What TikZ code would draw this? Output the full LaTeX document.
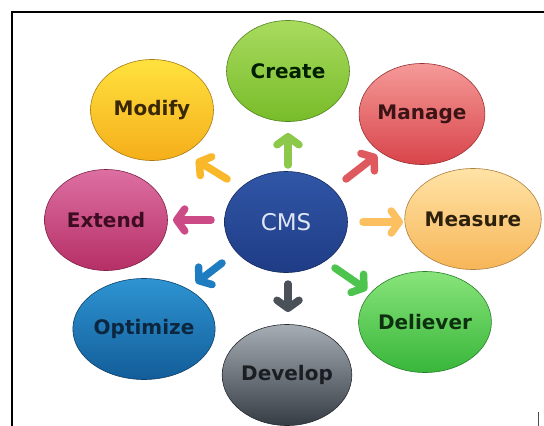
\documentclass[tikz,border=0pt]{standalone}
\usepackage{fontspec}
\setmainfont{DejaVu Sans}
\usetikzlibrary{arrows.meta,shapes.geometric}
\definecolor{createT}{HTML}{A8DB5E}\definecolor{createB}{HTML}{78BC2A}
\definecolor{modifyT}{HTML}{FFE23E}\definecolor{modifyB}{HTML}{F5AE1A}
\definecolor{manageT}{HTML}{F59A98}\definecolor{manageB}{HTML}{D8444A}
\definecolor{extendT}{HTML}{DD6FA2}\definecolor{extendB}{HTML}{B52F66}
\definecolor{cmsT}{HTML}{3056A6}\definecolor{cmsB}{HTML}{1F3C86}
\definecolor{measureT}{HTML}{FFE3A6}\definecolor{measureB}{HTML}{F7B658}
\definecolor{optT}{HTML}{2E94D2}\definecolor{optB}{HTML}{125D99}
\definecolor{devT}{HTML}{A7ADB4}\definecolor{devB}{HTML}{363C44}
\definecolor{delT}{HTML}{88E47A}\definecolor{delB}{HTML}{38B63A}
\definecolor{aCreate}{HTML}{8CC84A}
\definecolor{aModify}{HTML}{F8B82A}
\definecolor{aManage}{HTML}{DE5A5E}
\definecolor{aExtend}{HTML}{CC4A86}
\definecolor{aMeasure}{HTML}{FDC060}
\definecolor{aOpt}{HTML}{1E7DC0}
\definecolor{aDev}{HTML}{4A5159}
\definecolor{aDel}{HTML}{4CC44E}
\tikzset{
  bubble/.style={ellipse, inner sep=0pt, minimum width=123pt, minimum height=101pt,
    font=\fontsize{20}{24}\selectfont\bfseries, draw=#1!70!black, line width=0.6pt},
  spoke/.style={line width=7.5pt, draw=#1, line cap=round,
    -{Straight Barb[round,length=8pt,width=22pt]}},
}
\begin{document}
\begin{tikzpicture}[x=1pt,y=-1pt]
\useasboundingbox (0,0) rectangle (544,426);
\fill[white] (0,0) rectangle (544,426);
\begin{scope}
\clip (0,0) rectangle (544,426);
\node[bubble=createB, top color=createT, bottom color=createB, text=black!70!green!40!black] (create) at (288,71) {Create};
\node[bubble=modifyB, top color=modifyT, bottom color=modifyB, text={rgb,255:red,58;green,40;blue,5}] (modify) at (152,110) {Modify};
\node[bubble=manageB, top color=manageT, bottom color=manageB, text={rgb,255:red,60;green,20;blue,22}] (manage) at (422,114) {Manage};
\node[bubble=extendB, top color=extendT, bottom color=extendB, text={rgb,255:red,60;green,12;blue,32}] (extend) at (106,220) {Extend};
\node[bubble=cmsB, top color=cmsT, bottom color=cmsB, font=\fontsize{23}{27}\selectfont, text={rgb,255:red,222;green,230;blue,245}] (cms) at (286,222) {CMS};
\node[bubble=measureB, top color=measureT, bottom color=measureB, minimum width=125pt, text={rgb,255:red,45;green,32;blue,12}] (measure) at (473,219) {Measure};
\node[bubble=optB, top color=optT, bottom color=optB, minimum width=128pt, text={rgb,255:red,12;green,38;blue,64}] (optimize) at (144,329) {Optimize};
\node[bubble=devB, top color=devT, bottom color=devB, text={rgb,255:red,26;green,29;blue,34}] (develop) at (287,375) {Develop};
\node[bubble=delB, top color=delT, bottom color=delB, text={rgb,255:red,14;green,48;blue,16}] (deliever) at (425,322) {Deliever};
\end{scope}
% arrow end points
\coordinate (c1) at (288,165); \coordinate (c2) at (288,133);
\coordinate (m1) at (227,179); \coordinate (m2) at (196,160);
\coordinate (g1) at (346,179); \coordinate (g2) at (377,155);
\coordinate (e1) at (211,220); \coordinate (e2) at (173,220);
\coordinate (s1) at (363,222); \coordinate (s2) at (403,222);
\coordinate (o1) at (222,263); \coordinate (o2) at (196,283);
\coordinate (d1) at (288,284); \coordinate (d2) at (288,312);
\coordinate (l1) at (335,268); \coordinate (l2) at (367,290);
\draw[spoke=aCreate] (c1) -- (c2);
\draw[spoke=aModify] (m1) -- (m2);
\draw[spoke=aManage] (g1) -- (g2);
\draw[spoke=aExtend] (e1) -- (e2);
\draw[spoke=aMeasure] (s1) -- (s2);
\draw[spoke=aOpt] (o1) -- (o2);
\draw[spoke=aDev] (d1) -- (d2);
\draw[spoke=aDel] (l1) -- (l2);
% frame
\coordinate (f1) at (12,426); \coordinate (f2) at (12,12); \coordinate (f3) at (544,12);
\draw[line width=1.4pt, black] (f1) -- (f2) -- (f3);
\coordinate (t1) at (538.5,412); \coordinate (t2) at (538.5,426);
\draw[line width=0.9pt, black!70] (t1) -- (t2);
\end{tikzpicture}
\end{document}
